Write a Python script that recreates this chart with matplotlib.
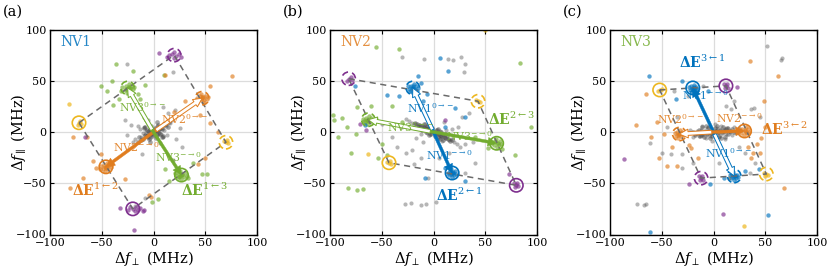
import matplotlib
matplotlib.use('Agg')
import matplotlib.pyplot as plt
from matplotlib.patches import Circle, FancyArrowPatch, ArrowStyle

plt.rcParams['font.family'] = ['DejaVu Serif']
plt.rcParams['mathtext.fontset'] = 'dejavuserif'

BLUE = '#0072BD'
ORANGE = '#E07D1F'
GREEN = '#72AC2F'
PURPLE = '#7E2F8E'
YELLOW = '#EDB720'
GRAY = '#4a4a4a'

ticks = [-100, -50, 0, 50, 100]

# ---------------- Panel (a): NV1 ----------------
A_CORE = [(0,0),(2,2),(-2,-2),(4,1),(-4,-1),(1,4),(-1,-4),(6,4),(-6,-4),(3,-3),(-3,3),(8,3),(-8,-3),
          (4,7),(-4,-7),(10,7),(-10,-7),(6,-2),(-6,2),(12,8),(-12,-8),(8,-5),(-8,5),(14,5),(-14,-5),
          (3,10),(-3,-10),(15,10),(-15,-10),(9,-4),(-9,4),(5,5),(-5,-5),(2,-6),(-2,6)]
A_GRAY = [(0,0),(2,1),(-2,-1),(3,-2),(-3,2),(1,3),(-1,-3),(4,2),(-4,-2),(5,-1),(-5,1),(6,3),(-6,-3),
          (2,-4),(-2,4),(7,-2),(-7,1),(8,4),(-8,-3),(3,6),(-3,-6),(10,2),(-10,-1),(9,-5),(-9,5),(12,6),
          (-12,-5),(13,-3),(-13,3),(16,9),(-15,6),(18,12),(-18,-7),(21,16),(-20,-10),(22,-7),(-22,7),
          (6,-11),(-5,12),(26,4),(-26,-3),(14,19),(9,24),(-11,-21),(28,-15),(-28,12),(19,-27),
          (-18,-72),(-8,-64),(-26,66),(19,59),(21,21)]
A_GREEN = [(-25,43),(-27,45),(-23,41),(-28,41),(-22,45),(-30,44),(-20,42),(-26,38),(-24,47),(-31,40),
           (-19,44),(-27,42),(-24,44),(-26,42),(-23,43),
           (27,-42),(25,-40),(29,-44),(24,-44),(30,-40),(22,-42),(32,-43),(27,-46),(26,-38),(33,-45),
           (21,-40),(28,-42),(26,-43),(28,-41),(25,-44),
           (-36,66),(-20,60),(10,56),(-51,45),(-39,26),(-33,32),(-13,32),(-8,46),(-40,50),(47,-41),
           (52,-41),(11,-36),(-1,-68),(4,-65),(38,-30),(15,-48),(-45,40),(-15,37)]
A_ORANGE = [(-46,-34),(-48,-32),(-44,-36),(-49,-36),(-43,-32),(-51,-33),(-41,-34),(-47,-38),(-45,-30),
            (-52,-36),(-40,-31),(-47,-34),(-45,-33),(-46,-35),
            (47,33),(45,35),(49,31),(44,31),(50,35),(42,33),(52,32),(46,37),(48,29),(53,34),(41,31),(47,34),
            (46,32),(48,34),
            (11,56),(76,55),(-81,-55),(-68,-45),(-56,-35),(-51,-21),(-64,-5),(55,9),(45,17),(55,45),
            (-4,-61),(-2,-63),(43,-31),(50,-25),(-58,-28),(30,30),(-28,-46),(20,20),(-78,-5),(62,0)]
A_PURPLE = [(18,76),(22,74),(15,75),(25,76),(20,78),(13,73),(27,73),(20,72),
            (-20,-75),(-18,-77),(-23,-73),(-15,-76),(-25,-76),(-17,-73),(-13,-74),(-10,-77),
            (-66,-5),(-19,-96),(-32,-74),(-9,-76),(5,77)]
A_YELLOW = [(-72,9),(-71,11),(-73,7),(-70,8),(70,-10),(68,-9),(72,-11),(71,-8),(-82,27)]
A_VERTS = [(-72,9),(20,75),(70,-10),(-20,-75)]
A_CIRCLES = [(-72,9,YELLOW,'-'),(-46,-34,ORANGE,'-'),(27,-42,GREEN,'-'),(-20,-75,PURPLE,'-'),
             (20,75,PURPLE,'--'),(47,33,ORANGE,'--'),(-25,43,GREEN,'--'),(70,-10,YELLOW,'--')]
A_ARROWS = [((-46,-34),ORANGE,True),((47,33),ORANGE,False),((27,-42),GREEN,True),((-25,43),GREEN,False)]
A_LABELS = [(-33,24,r'NV3$^{0\rightarrow-}$',GREEN),(7,13,r'NV2$^{0\rightarrow-}$',ORANGE),
            (-39,-15,r'NV2$^{-\rightarrow0}$',ORANGE),(1,-24,r'NV3$^{-\rightarrow0}$',GREEN)]
A_DE = [(-79,-57,r'ΔE$^{1\leftarrow2}$',ORANGE),(27,-57,r'ΔE$^{1\leftarrow3}$',GREEN)]

# ---------------- Panel (b): NV2 ----------------
B_CORE = [(0,0),(2,-1),(-2,1),(4,-2),(-4,2),(6,-3),(-6,3),(8,-4),(-8,4),(10,-5),(-10,5),(3,2),(-3,-2),
          (5,-6),(-5,6),(12,-6),(-12,6),(14,-7),(-14,7),(7,0),(-7,0),(16,-9),(-16,8),(1,-4),(-1,4),
          (9,-8),(-9,8),(18,-8),(-18,9),(11,-2),(-11,2),(6,-7),(-6,6),(4,3),(-4,-3)]
B_GRAY = [(0,0),(3,-1),(-3,1),(5,-2),(-5,2),(7,-4),(-7,3),(9,-3),(-9,5),(2,2),(-2,-2),(4,-5),(-4,4),
          (11,-6),(-11,4),(13,-4),(-13,7),(15,-8),(-15,6),(6,1),(-6,-1),(17,-7),(-18,8),(20,-10),
          (-21,9),(23,-12),(-24,11),(8,-9),(-8,8),(12,2),(-12,-2),(26,-15),(-27,13),(30,-12),(-30,5),
          (18,3),(-17,-6),(10,10),(-10,-10),
          (-30,73),(-9,71),(14,71),(19,70),(27,73),(29,59),(30,66),(-28,-70),(-22,-69),(-12,-71),
          (-7,-70),(2,-68),(34,19),(28,15),(24,5),(38,-10),(-27,-20),(-21,-18),(-19,-31),(-12,-25),
          (-35,-15),(-40,-5),(5,-25),(15,-20),(40,-30),(30,-40),(-50,8),(-5,-45)]
B_BLUE = [(-20,43),(-22,45),(-18,41),(-24,42),(-17,45),(-21,39),(-19,47),(-25,45),(-15,43),(-23,40),
          (-20,45),(-16,40),(-21,43),(-19,42),
          (18,-40),(16,-38),(20,-42),(15,-42),(21,-38),(18,-44),(14,-40),(22,-41),(17,-36),(19,-40),
          (17,-41),(19,-39),
          (6,72),(14,60),(-33,35),(-6,37),(-45,36),(-76,45),(-66,7),(21,23),(30,15),(-8,-45),(11,-35),
          (30,-48),(11,5),(-15,55),(-10,30),(-12,48)]
B_GREEN = [(-63,12),(-65,14),(-61,10),(-66,10),(-60,14),(-68,13),(-58,11),(-64,8),(-62,16),(-67,11),
           (-56,13),(-64,12),(-62,12),(-63,11),
           (61,-11),(59,-9),(63,-13),(58,-13),(64,-9),(61,-15),(57,-11),(65,-12),(60,-7),(62,-11),
           (-56,83),(-33,81),(-97,17),(-96,12),(-92,-5),(-84,5),(-74,24),(-83,-55),(-74,-57),(-68,-56),
           (84,67),(94,5),(66,-17),(53,-16),(79,-22),(-60,25),(-50,-12),(-80,-20),(-40,25),(40,-5),
           (-75,-2),(-54,-25),(-45,-22),(-88,14),(-30,10)]
B_PURPLE = [(-82,52),(-80,54),(-84,50),(-79,51),(80,-52),(78,-50),(82,-53),(81,-50),(79,-54),
            (11,12),(-65,2),(73,-41),(-71,8)]
B_YELLOW = [(43,30),(41,31),(45,29),(-43,-30),(-41,-31),(-45,-29),(-42,-28),(50,100),(-63,-21)]
B_VERTS = [(-82,52),(43,30),(80,-52),(-43,-30)]
B_CIRCLES = [(-43,-30,YELLOW,'-'),(18,-40,BLUE,'-'),(61,-11,GREEN,'-'),(80,-52,PURPLE,'-'),
             (-82,52,PURPLE,'--'),(43,30,YELLOW,'--'),(-20,43,BLUE,'--'),(-63,12,GREEN,'--')]
B_ARROWS = [((18,-40),BLUE,True),((-20,43),BLUE,False),((61,-11),GREEN,True),((-63,12),GREEN,False)]
B_LABELS = [(-26,23,r'NV1$^{0\rightarrow-}$',BLUE),(-45,5,r'NV3$^{0\rightarrow-}$',GREEN),
            (12,-4,r'NV3$^{-\rightarrow0}$',GREEN),(-7,-23,r'NV1$^{-\rightarrow0}$',BLUE)]
B_DE = [(53,12,r'ΔE$^{2\leftarrow3}$',GREEN),(2,-62,r'ΔE$^{2\leftarrow1}$',BLUE)]

# ---------------- Panel (c): NV3 ----------------
C_CORE = [(0,0),(2,1),(-2,-1),(4,0),(-4,0),(6,2),(-6,-2),(8,-1),(-8,1),(10,1),(-10,-1),(1,4),(-1,-4),
          (12,3),(-12,-3),(14,-2),(-14,2),(5,-4),(-5,4),(16,1),(-16,-1),(3,6),(-3,-6),(18,3),(-18,-3),
          (9,5),(-9,-5),(20,0),(-20,0),(11,-5),(-11,5),(7,-6),(-7,6),(13,4),(-13,-4)]
C_GRAY = [(0,0),(2,1),(-2,-1),(4,-1),(-4,1),(6,2),(-6,-2),(8,0),(-8,0),(3,4),(-3,-4),(10,3),(-10,-3),
          (12,-2),(-12,2),(5,-5),(-5,5),(14,4),(-14,-4),(16,0),(-16,1),(18,-3),(-18,-2),(7,6),(-7,-6),
          (20,5),(-20,-5),(11,-7),(-11,6),(22,-1),(-23,2),(25,4),(1,8),(-1,-9),
          (52,84),(65,70),(66,72),(17,22),(12,25),(36,22),(39,23),(-30,-21),(-41,-21),(-50,-20),
          (-61,-11),(-74,-70),(-67,-71),(-65,-70),(-25,35),(-10,45),(-38,40),(20,30),(25,-15),(30,-20),
          (-20,-30),(-30,-35),(5,-30),(40,-30),(-35,15),(-45,5),(45,15),(35,-40)]
C_BLUE = [(-20,43),(-22,45),(-18,41),(-23,41),(-17,44),(-21,39),(-19,46),(-24,44),(-16,42),(-20,41),
          (-21,42),(-19,44),
          (20,-43),(18,-41),(22,-45),(17,-45),(23,-42),(20,-47),(16,-42),(24,-44),(19,-39),(21,-43),
          (19,-44),(21,-42),
          (-62,55),(-61,-98),(53,-81),(-36,32),(17,-40),(44,-36),(-3,-51),(30,-38),(10,-45),(-5,40),
          (-30,50)]
C_ORANGE = [(-33,-2),(-35,0),(-31,-4),(-36,-4),(-30,0),(-34,-6),(-32,2),(-37,-1),(-29,-3),(-33,-2),
            (-32,-1),(-34,-3),
            (30,1),(28,3),(32,-1),(27,-1),(33,3),(29,-3),(31,5),(34,0),(26,2),(30,2),(31,0),
            (-75,7),(-65,37),(35,69),(62,55),(49,30),(46,-6),(42,-12),(-45,-33),(-35,-33),(-53,-25),
            (68,-55),(-24,-13),(-22,-16),(-15,-25),(33,-15),(36,-25),(38,-20),(-55,10),(-60,-5),
            (-40,-15),(-48,-2),(45,-20),(15,-45),(50,5)]
C_PURPLE = [(12,45),(10,47),(14,43),(11,43),(13,47),(-12,-45),(-14,-43),(-10,-47),(-13,-47),(-11,-43),
            (-86,-26),(9,-80),(23,44),(-24,-51)]
C_YELLOW = [(-52,41),(-50,42),(-54,40),(51,-41),(49,-40),(53,-42),(50,-43),(29,-92)]
C_VERTS = [(-52,41),(12,45),(51,-41),(-12,-45)]
C_CIRCLES = [(-52,41,YELLOW,'-'),(-20,43,BLUE,'-'),(12,45,PURPLE,'-'),(30,1,ORANGE,'-'),
             (-33,-2,ORANGE,'--'),(-12,-45,PURPLE,'--'),(20,-43,BLUE,'--'),(51,-41,YELLOW,'--')]
C_ARROWS = [((-20,43),BLUE,True),((20,-43),BLUE,False),((30,1),ORANGE,True),((-33,-2),ORANGE,False)]
C_LABELS = [(-30,36,r'NV1$^{-\rightarrow0}$',BLUE),(-55,13,r'NV2$^{0\rightarrow-}$',ORANGE),
            (2,14,r'NV2$^{-\rightarrow0}$',ORANGE),(-8,-21,r'NV1$^{0\rightarrow-}$',BLUE)]
C_DE = [(-33,68,r'ΔE$^{3\leftarrow1}$',BLUE),(46,3,r'ΔE$^{3\leftarrow2}$',ORANGE)]

PANELS = [
    ('(a)', 'NV1', BLUE, 50, A_CORE, A_GRAY, A_GREEN, A_ORANGE, [], A_PURPLE, A_YELLOW,
     A_VERTS, A_CIRCLES, A_ARROWS, A_LABELS, A_DE),
    ('(b)', 'NV2', ORANGE, 330, B_CORE, B_GRAY, B_GREEN, [], B_BLUE, B_PURPLE, B_YELLOW,
     B_VERTS, B_CIRCLES, B_ARROWS, B_LABELS, B_DE),
    ('(c)', 'NV3', GREEN, 610, C_CORE, C_GRAY, [], C_ORANGE, C_BLUE, C_PURPLE, C_YELLOW,
     C_VERTS, C_CIRCLES, C_ARROWS, C_LABELS, C_DE),
]

W, H = 830, 277
fig = plt.figure(figsize=(W/100, H/100), dpi=100)

for (tag, name, ncol, left, core, gray, green, orange, blue, purple, yellow,
     verts, circles, arrows, labels, des) in PANELS:
    ax = fig.add_axes([left/W, (H-234.5)/H, 207/W, 205/H])
    ax.set_xlim(-100, 100)
    ax.set_ylim(-100, 100)
    ax.set_xticks(ticks)
    ax.set_yticks(ticks)
    ax.set_xticklabels(['−100', '−50', '0', '50', '100'])
    ax.set_yticklabels(['−100', '−50', '0', '50', '100'])
    ax.grid(True, color='#dcdcdc', lw=0.9, zorder=0)
    ax.set_axisbelow(True)
    ax.tick_params(direction='in', length=3, width=0.8, top=True, right=True,
                   labelsize=8, pad=2.5)
    for sp in ax.spines.values():
        sp.set_linewidth(1.0)
    ax.set_xlabel(r'$\Delta f_{\perp}$ (MHz)', fontsize=10.5, labelpad=1)
    ax.set_ylabel(r'$\Delta f_{\parallel}$ (MHz)', fontsize=10.5)
    ax.yaxis.set_label_coords(-0.105, 0.5)

    for pts, col, al, sz in [(core, GRAY, 0.5, 11), (gray, GRAY, 0.4, 9), (green, GREEN, 0.65, 10),
                             (orange, ORANGE, 0.65, 10), (blue, BLUE, 0.65, 10),
                             (purple, PURPLE, 0.65, 10), (yellow, YELLOW, 0.7, 10)]:
        if pts:
            xs = [p[0] for p in pts]
            ys = [p[1] for p in pts]
            ax.scatter(xs, ys, s=sz, color=col, alpha=al, linewidths=0, zorder=2)

    px = [v[0] for v in verts] + [verts[0][0]]
    py = [v[1] for v in verts] + [verts[0][1]]
    ax.plot(px, py, color='#6a6a6a', lw=1.1, dashes=(4, 3), zorder=3)

    for (cx, cy, col, ls) in circles:
        c = Circle((cx, cy), 6.5, fill=False, ec=col, lw=1.2, zorder=4,
                   ls=(0, (4, 2.5)) if ls == '--' else '-')
        ax.add_patch(c)

    for (end, col, solid) in arrows:
        if solid:
            start = (-0.35*end[0], -0.35*end[1])
            st = ArrowStyle.Simple(head_length=0.9, head_width=0.9, tail_width=0.3)
            a = FancyArrowPatch(start, end, arrowstyle=st, mutation_scale=7, fc=col, ec=col,
                                lw=0.3, shrinkA=0, shrinkB=0, zorder=5)
        else:
            start = (0.05*end[0], 0.05*end[1])
            st = ArrowStyle.Simple(head_length=0.9, head_width=0.9, tail_width=0.38)
            a = FancyArrowPatch(start, end, arrowstyle=st, mutation_scale=7, fc='white', ec=col,
                                lw=0.7, shrinkA=0, shrinkB=0, zorder=5)
        ax.add_patch(a)

    for (tx, ty, s, col) in labels:
        ax.text(tx, ty, s, color=col, fontsize=7.8, ha='left', va='center', zorder=6, alpha=0.9)
    for (tx, ty, s, col) in des:
        ax.text(tx, ty, s, color=col, fontsize=10, fontweight='bold', ha='left', va='center',
                zorder=6)

    ax.text(-90, 88, name, color=ncol, fontsize=10, ha='left', va='center', alpha=0.85, zorder=6)
    fig.text((left - 47)/W, 1 - 12/H, tag, fontsize=10.5, ha='left', va='center')

fig.savefig('out.png', dpi=100)
